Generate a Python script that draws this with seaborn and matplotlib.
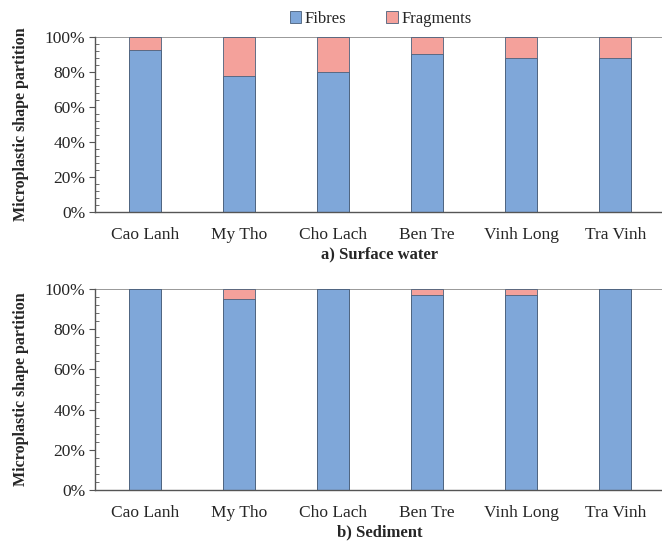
import matplotlib
matplotlib.use("Agg")
import matplotlib.pyplot as plt
import seaborn as sns
import pandas as pd
import numpy as np
from matplotlib.ticker import MultipleLocator, FuncFormatter
from matplotlib.patches import Patch

sites = ["Cao Lanh", "My Tho", "Cho Lach", "Ben Tre", "Vinh Long", "Tra Vinh"]
water_fibres = [92.5, 78, 80, 90.5, 88, 88]
water_fragments = [7.5, 22, 20, 9.5, 12, 12]
sed_fibres = [100, 95, 100, 97, 96.8, 100]
sed_fragments = [0, 5, 0, 3, 3.2, 0]

sns.set_theme(style="white")
plt.rcParams['font.family'] = ['Liberation Serif', 'DejaVu Serif']

blue = "#7fa7d9"
pink = "#f4a19b"
edge = "#4a5f7a"

fig = plt.figure(figsize=(6.62, 5.41), dpi=100)
ax1 = fig.add_axes([0.1435, 0.608, 0.86, 0.3236])
ax2 = fig.add_axes([0.1435, 0.0943, 0.86, 0.3715])

def draw(ax, fibres, frags, title):
    df = pd.DataFrame({"site": sites, "fibres": fibres,
                       "total": np.array(fibres) + np.array(frags)})
    sns.barplot(data=df, x="site", y="total", color=pink, width=0.34,
                edgecolor=edge, linewidth=0.6, saturation=1, ax=ax)
    sns.barplot(data=df, x="site", y="fibres", color=blue, width=0.34,
                edgecolor=edge, linewidth=0.6, saturation=1, ax=ax)
    ax.set_ylim(0, 100)
    ax.set_xlim(-0.53, 5.52)
    ax.yaxis.set_major_locator(MultipleLocator(20))
    ax.yaxis.set_minor_locator(MultipleLocator(4))
    ax.yaxis.set_major_formatter(FuncFormatter(lambda v, p: f"{int(v)}%"))
    ax.tick_params(axis="y", which="major", direction="out", length=4, width=0.8,
                   left=True, labelsize=12.5, color="#555555", pad=3)
    ax.tick_params(axis="y", which="minor", direction="in", length=3, width=0.6,
                   left=True, color="#555555")
    ax.tick_params(axis="x", length=0, labelsize=12.5, pad=10.5)
    ax.axhline(100, color="#888888", linewidth=1.2, zorder=0)
    for s in ["top", "right"]:
        ax.spines[s].set_visible(False)
    for s in ["left", "bottom"]:
        ax.spines[s].set_color("#555555")
        ax.spines[s].set_linewidth(1.0)
    ax.set_ylabel("Microplastic shape partition", fontsize=11.5, fontweight="bold", labelpad=11)
    ax.set_xlabel(title, fontsize=12, fontweight="bold", labelpad=3)

draw(ax1, water_fibres, water_fragments, "a) Surface water")
draw(ax2, sed_fibres, sed_fragments, "b) Sediment")

handles = [Patch(facecolor=blue, edgecolor=edge, linewidth=0.6, label="Fibres"),
           Patch(facecolor=pink, edgecolor=edge, linewidth=0.6, label="Fragments")]
fig.legend(handles=handles, loc="center", bbox_to_anchor=(0.575, 0.965), ncol=2,
           frameon=False, fontsize=12, handlelength=0.7, handleheight=0.7,
           handletextpad=0.2, columnspacing=2.4)

fig.savefig("out.png", dpi=100)
